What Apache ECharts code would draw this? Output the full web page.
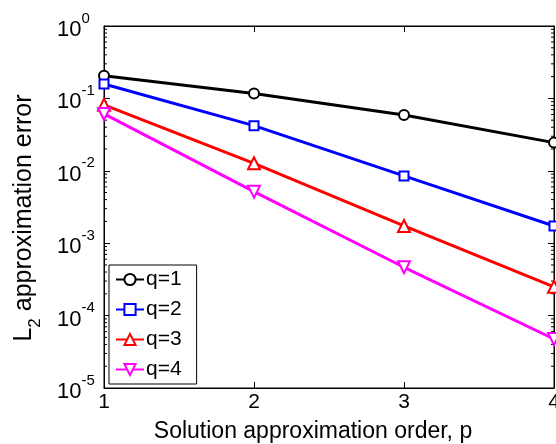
<!DOCTYPE html>
<html>
<head>
<meta charset="utf-8">
<script src="https://cdn.jsdelivr.net/npm/echarts@6/dist/echarts.min.js"></script>
<style>
html,body{margin:0;padding:0;background:#fff;}
#chart{width:556px;height:444px;}
</style>
</head>
<body>
<div id="chart"></div>
<script>
// ---- data ----
const orders = [1, 2, 3, 4];
const seriesNames = ['q=1', 'q=2', 'q=3', 'q=4'];
const errQ1 = [0.205, 0.117, 0.059, 0.0245];
const errQ2 = [0.158, 0.042, 0.0085, 0.00173];
const errQ3 = [0.0815, 0.0127, 0.00173, 0.00025];
const errQ4 = [0.061, 0.00515, 0.000465, 0.0000475];
const yTickExponents = [-5, -4, -3, -2, -1, 0];
const xTickLabels = ['1', '2', '3', '4'];
const xTitle = 'Solution approximation order, p';

const FONT = '"Liberation Sans", Arial, Helvetica, sans-serif';
const colors = ['#000000', '#0000ff', '#ff0000', '#ff00ff'];
const symbols = ['circle', 'rect', 'triangle', 'triangle'];
const rotates = [0, 0, 0, 180];
const sizes = [10, 9, 12, 12];
const allErr = [errQ1, errQ2, errQ3, errQ4];

const minorVals = [];
for (let d = -5; d <= -1; d++) {
  for (let m = 2; m <= 9; m++) minorVals.push(m * Math.pow(10, d));
}

const chart = echarts.init(document.getElementById('chart'), null, {renderer: 'canvas'});

const lineSeries = seriesNames.map((name, i) => ({
  name: name,
  type: 'line',
  xAxisIndex: 0,
  yAxisIndex: 0,
  data: orders.map((x, k) => [x, allErr[i][k]]),
  symbol: symbols[i],
  symbolSize: sizes[i],
  symbolRotate: rotates[i],
  showAllSymbol: true,
  lineStyle: {color: colors[i], width: 3},
  itemStyle: {color: '#ffffff', borderColor: colors[i], borderWidth: 2},
  z: 3 + i,
  clip: false,
  animation: false
}));

const minorTickSeries = {
  type: 'custom',
  name: 'minor',
  xAxisIndex: 0,
  yAxisIndex: 0,
  silent: true,
  clip: false,
  data: minorVals.map(v => [1, v]),
  renderItem: function (params, api) {
    const v = api.value(1);
    const pl = api.coord([1, v]);
    const pr = api.coord([4, v]);
    const st = {stroke: '#000', lineWidth: 1};
    return {
      type: 'group',
      children: [
        {type: 'line', shape: {x1: pl[0], y1: pl[1], x2: pl[0] + 3, y2: pl[1]}, style: st},
        {type: 'line', shape: {x1: pr[0], y1: pr[1], x2: pr[0] - 3, y2: pr[1]}, style: st}
      ]
    };
  },
  z: 2,
  animation: false
};

const yLabelFmt = function (value) {
  const e = Math.round(Math.log10(value));
  return '{b|10}{e|' + e + '}';
};

const option = {
  animation: false,
  backgroundColor: '#ffffff',
  textStyle: {fontFamily: FONT},
  grid: {left: 104, right: 2, top: 26, bottom: 56, show: true, borderColor: '#000', borderWidth: 1,
    backgroundColor: 'transparent', containLabel: false, outerBoundsMode: 'none'},
  legend: {
    data: seriesNames,
    orient: 'vertical',
    left: 109,
    bottom: 60,
    backgroundColor: '#ffffff',
    borderColor: '#000',
    borderWidth: 1,
    borderRadius: 0,
    padding: [4, 15, 4, 6],
    itemWidth: 28,
    itemHeight: 14,
    itemGap: 9,
    textStyle: {fontSize: 21, color: '#000', fontFamily: FONT, padding: [0, 0, 0, -3]}
  },
  xAxis: [{
    type: 'value',
    min: 1, max: 4, interval: 1,
    position: 'bottom',
    name: xTitle,
    nameLocation: 'middle',
    nameGap: 32,
    nameTextStyle: {fontSize: 23, color: '#000', fontFamily: FONT, padding: [0, 32, 0, 0]},
    axisLine: {show: true, lineStyle: {color: '#000', width: 1}},
    axisTick: {show: true, inside: true, length: 6, lineStyle: {color: '#000'}},
    axisLabel: {show: true, fontSize: 21, color: '#000', margin: 4, fontFamily: FONT,
      formatter: function (v) { return xTickLabels[orders.indexOf(v)] || ''; }},
    splitLine: {show: false}
  }, {
    type: 'value',
    min: 1, max: 4, interval: 1,
    position: 'top',
    axisLine: {show: true, lineStyle: {color: '#000', width: 1}},
    axisTick: {show: true, inside: true, length: 6, lineStyle: {color: '#000'}},
    axisLabel: {show: false},
    splitLine: {show: false}
  }],
  yAxis: [{
    type: 'log',
    logBase: 10,
    min: 1e-5, max: 1,
    interval: 1,
    position: 'left',
    name: '{n|L}{s|2}{n| approximation error}',
    nameLocation: 'middle',
    nameRotate: 90,
    nameGap: 60,
    nameTextStyle: {
      color: '#000', fontFamily: FONT, padding: [0, 22, 0, 0],
      rich: {
        n: {fontSize: 25, fontFamily: FONT, color: '#000', verticalAlign: 'top', lineHeight: 32},
        s: {fontSize: 17, fontFamily: FONT, color: '#000', verticalAlign: 'bottom', lineHeight: 32}
      }
    },
    axisLine: {show: true, lineStyle: {color: '#000', width: 1}},
    axisTick: {show: true, inside: true, length: 6, lineStyle: {color: '#000'}},
    axisLabel: {
      show: true, margin: 47, align: 'left', formatter: yLabelFmt,
      rich: {
        b: {fontSize: 22, fontFamily: FONT, color: '#000', verticalAlign: 'bottom', lineHeight: 30},
        e: {fontSize: 15, fontFamily: FONT, color: '#000', verticalAlign: 'top', lineHeight: 30}
      }
    },
    splitLine: {show: false},
    minorTick: {show: false}
  }, {
    type: 'log',
    logBase: 10,
    min: 1e-5, max: 1,
    interval: 1,
    position: 'right',
    axisLine: {show: true, lineStyle: {color: '#000', width: 1}},
    axisTick: {show: true, inside: true, length: 6, lineStyle: {color: '#000'}},
    axisLabel: {show: false},
    splitLine: {show: false}
  }],
  series: [minorTickSeries].concat(lineSeries)
};

chart.setOption(option);
</script>
</body>
</html>
